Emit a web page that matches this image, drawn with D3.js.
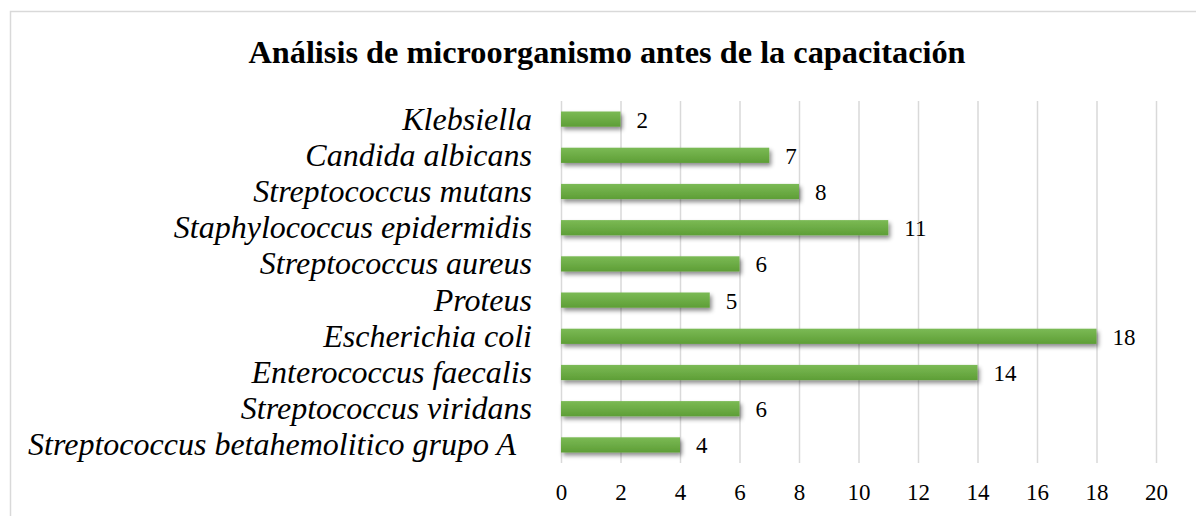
<!DOCTYPE html>
<html>
<head>
<meta charset="utf-8">
<script src="https://cdn.jsdelivr.net/npm/d3@7"></script>
<style>
	body { margin: 0; background: #ffffff; }
	svg { display: block; }
	.axis path { display: none; }
	.axis .tick line { stroke: #d9d9d9; stroke-width: 1.5; }
	.axis text { font-family: 'Liberation Serif', 'Times New Roman', serif; font-size: 23px; fill: #000; }
</style>
</head>
<body>
<script>
var categories = [
	'Klebsiella',
	'Candida albicans',
	'Streptococcus mutans',
	'Staphylococcus epidermidis',
	'Streptococcus aureus',
	'Proteus',
	'Escherichia coli',
	'Enterococcus faecalis',
	'Streptococcus viridans',
	'Streptococcus betahemolitico grupo A'
];
var values = [ 2, 7, 8, 11, 6, 5, 18, 14, 6, 4 ];
var xTicks = [ 0, 2, 4, 6, 8, 10, 12, 14, 16, 18, 20 ];
var title = 'Análisis de microorganismo antes de la capacitación';

var width = 1196;
var height = 516;

var plot = {
	left: 561,
	right: 1156,
	top: 101,
	bottom: 463
};

var serif = "'Liberation Serif', 'Times New Roman', serif";

var svg = d3.select( 'body' ).append( 'svg' )
	.attr( 'width', width )
	.attr( 'height', height );

var defs = svg.append( 'defs' );

var grad = defs.append( 'linearGradient' ).attr( 'id', 'bar-grad' )
	.attr( 'x1', 0 ).attr( 'y1', 0 ).attr( 'x2', 0 ).attr( 'y2', 1 );
grad.append( 'stop' ).attr( 'offset', '0%' ).attr( 'stop-color', '#7bba55' );
grad.append( 'stop' ).attr( 'offset', '100%' ).attr( 'stop-color', '#5e9e36' );

defs.append( 'filter' ).attr( 'id', 'shadow' )
	.attr( 'x', '-10%' ).attr( 'y', '-50%' ).attr( 'width', '120%' ).attr( 'height', '250%' )
	.append( 'feDropShadow' )
	.attr( 'dx', 2 ).attr( 'dy', 3 )
	.attr( 'stdDeviation', 2 )
	.attr( 'flood-color', '#000' )
	.attr( 'flood-opacity', 0.45 );

// chart frame, runs off the right and bottom edge like the source
svg.append( 'rect' )
	.attr( 'x', 10.5 ).attr( 'y', 11.5 )
	.attr( 'width', width ).attr( 'height', height )
	.attr( 'fill', 'none' )
	.attr( 'stroke', '#d9d9d9' )
	.attr( 'stroke-width', 1.5 );

svg.append( 'text' )
	.attr( 'x', 607 ).attr( 'y', 63 )
	.attr( 'text-anchor', 'middle' )
	.style( 'font-family', serif )
	.style( 'font-weight', 'bold' )
	.style( 'font-size', '32.3px' )
	.text( title );

var x = d3.scaleLinear()
	.domain( [ 0, 20 ] )
	.range( [ plot.left, plot.right ] );

var y = d3.scaleBand()
	.domain( categories )
	.range( [ plot.top, plot.bottom ] )
	.paddingInner( 0.58 )
	.paddingOuter( 0.29 );

var xAxis = d3.axisBottom( x )
	.tickValues( xTicks )
	.tickSize( -( plot.bottom - plot.top ) )
	.tickPadding( 0 );

var gx = svg.append( 'g' ).classed( 'axis', true )
	.attr( 'transform', 'translate(0,' + plot.bottom + ')' )
	.call( xAxis );
gx.selectAll( '.tick text' ).attr( 'y', 37 ).attr( 'dy', 0 );

// category labels (the last one sits a bit further left in the source)
svg.append( 'g' ).selectAll( 'text' )
	.data( categories )
	.enter()
	.append( 'text' )
	.attr( 'x', function ( d, i ) { return i === categories.length - 1 ? 516 : 532; } )
	.attr( 'y', function ( d ) { return y( d ) + y.bandwidth() / 2 + 10.5; } )
	.attr( 'text-anchor', 'end' )
	.style( 'font-family', serif )
	.style( 'font-style', 'italic' )
	.style( 'font-size', '32px' )
	.text( function ( d ) { return d; } );

// bars
svg.append( 'g' ).selectAll( 'rect' )
	.data( values )
	.enter()
	.append( 'rect' )
	.attr( 'x', x( 0 ) )
	.attr( 'y', function ( d, i ) { return y( categories[i] ); } )
	.attr( 'width', function ( d ) { return x( d ) - x( 0 ); } )
	.attr( 'height', y.bandwidth() )
	.attr( 'fill', 'url(#bar-grad)' )
	.attr( 'filter', 'url(#shadow)' );

// value labels
svg.append( 'g' ).selectAll( 'text' )
	.data( values )
	.enter()
	.append( 'text' )
	.attr( 'x', function ( d ) { return x( d ) + 16; } )
	.attr( 'y', function ( d, i ) { return y( categories[i] ) + y.bandwidth() / 2 + 8.5; } )
	.style( 'font-family', serif )
	.style( 'font-size', '23px' )
	.text( function ( d ) { return d; } );
</script>
</body>
</html>
